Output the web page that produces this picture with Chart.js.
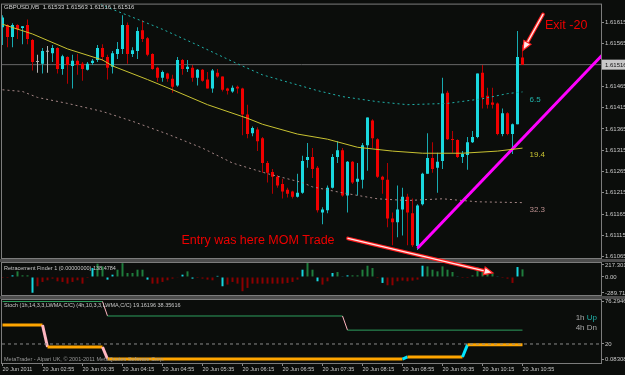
<!DOCTYPE html>
<html>
<head>
<meta charset="utf-8">
<script src="https://cdn.jsdelivr.net/npm/chart.js@4.4.1/dist/chart.umd.min.js"></script>
<style>
html,body{margin:0;padding:0;background:#0b0d0b;overflow:hidden}
#wrap{position:relative;width:625px;height:375px}
canvas{position:absolute;left:0;top:0}
</style>
</head>
<body>
<div id="wrap">
<canvas id="stoch" width="625" height="375"></canvas>
<canvas id="hist" width="625" height="375"></canvas>
<canvas id="main" width="625" height="375"></canvas>
</div>
<script>
// GBPUSD M5 candles, one per bar (bar 0 = 02:15)
const opens = [1.61604,1.61609,1.61581,1.61609,1.61602,1.61609,1.61574,1.61522,1.61518,1.61546,
1.61543,1.61555,1.61506,1.61534,1.61513,1.61525,1.61518,1.61504,1.61520,1.61527,
1.61555,1.61534,1.61511,1.61541,1.61553,1.61609,1.61541,1.61548,1.61597,1.61578,
1.61541,1.61509,1.61485,1.61495,1.61483,1.61467,1.61527,1.61506,1.61509,1.61485,
1.61504,1.61481,1.61460,1.61497,1.61488,1.61460,1.61453,1.61464,1.61460,1.61399,
1.61355,1.61364,1.61343,1.61285,1.61264,1.61253,1.61236,1.61222,1.61218,1.61206,
1.61215,1.61292,1.61299,1.61274,1.61169,1.61174,1.61227,1.61299,1.61315,1.61209,
1.61288,1.61241,1.61246,1.61327,1.61385,1.61341,1.61253,1.61246,1.61155,1.61146,
1.61176,1.61206,1.61167,1.61090,1.61188,1.61260,1.61297,1.61274,1.61290,1.61450,
1.61341,1.61339,1.61299,1.61304,1.61334,1.61346,1.61497,1.61443,1.61427,1.61425,
1.61353,1.61402,1.61353,1.61376,1.61533]
const highs = [1.61632,1.61611,1.61613,1.61611,1.61606,1.61622,1.61576,1.61539,1.61555,1.61560,
1.61562,1.61557,1.61539,1.61536,1.61539,1.61541,1.61522,1.61522,1.61529,1.61562,
1.61564,1.61539,1.61548,1.61569,1.61632,1.61615,1.61557,1.61604,1.61620,1.61581,
1.61543,1.61511,1.61502,1.61497,1.61492,1.61534,1.61529,1.61527,1.61515,1.61506,
1.61506,1.61499,1.61506,1.61506,1.61488,1.61462,1.61467,1.61467,1.61462,1.61422,
1.61371,1.61369,1.61346,1.61290,1.61271,1.61257,1.61248,1.61227,1.61220,1.61260,
1.61302,1.61332,1.61320,1.61278,1.61181,1.61232,1.61306,1.61336,1.61320,1.61290,
1.61290,1.61285,1.61332,1.61392,1.61388,1.61343,1.61255,1.61285,1.61169,1.61232,
1.61227,1.61213,1.61202,1.61188,1.61262,1.61355,1.61334,1.61309,1.61485,1.61455,
1.61360,1.61341,1.61313,1.61346,1.61360,1.61495,1.61515,1.61462,1.61462,1.61427,
1.61413,1.61404,1.61378,1.61595,1.61563]
const lows = [1.61562,1.61557,1.61557,1.61576,1.61564,1.61564,1.61502,1.61497,1.61495,1.61497,
1.61522,1.61495,1.61492,1.61471,1.61460,1.61492,1.61478,1.61502,1.61515,1.61522,
1.61525,1.61481,1.61495,1.61529,1.61541,1.61518,1.61534,1.61529,1.61569,1.61536,
1.61504,1.61476,1.61476,1.61476,1.61450,1.61464,1.61492,1.61499,1.61476,1.61467,
1.61476,1.61460,1.61450,1.61485,1.61453,1.61446,1.61450,1.61448,1.61350,1.61343,
1.61348,1.61313,1.61262,1.61239,1.61213,1.61227,1.61202,1.61204,1.61202,1.61204,
1.61213,1.61274,1.61250,1.61169,1.61141,1.61167,1.61225,1.61285,1.61206,1.61169,
1.61236,1.61209,1.61225,1.61267,1.61320,1.61250,1.61213,1.61134,1.61092,1.61111,
1.61115,1.61092,1.61088,1.61081,1.61185,1.61260,1.61262,1.61215,1.61271,1.61339,
1.61309,1.61297,1.61285,1.61269,1.61332,1.61343,1.61413,1.61413,1.61413,1.61350,
1.61348,1.61350,1.61306,1.61376,1.61516]
const closes = [1.61627,1.61581,1.61609,1.61599,1.61606,1.61576,1.61522,1.61522,1.61548,1.61546,
1.61555,1.61506,1.61536,1.61515,1.61525,1.61515,1.61506,1.61518,1.61525,1.61555,
1.61534,1.61509,1.61543,1.61553,1.61609,1.61541,1.61550,1.61595,1.61576,1.61539,
1.61506,1.61485,1.61499,1.61483,1.61464,1.61527,1.61506,1.61511,1.61485,1.61504,
1.61478,1.61460,1.61502,1.61488,1.61457,1.61455,1.61462,1.61460,1.61399,1.61353,
1.61367,1.61336,1.61285,1.61262,1.61253,1.61232,1.61218,1.61213,1.61206,1.61215,
1.61290,1.61299,1.61271,1.61174,1.61176,1.61227,1.61299,1.61315,1.61209,1.61288,
1.61239,1.61248,1.61327,1.61392,1.61343,1.61253,1.61246,1.61155,1.61146,1.61176,
1.61206,1.61169,1.61092,1.61185,1.61260,1.61297,1.61271,1.61288,1.61448,1.61341,
1.61339,1.61299,1.61306,1.61334,1.61346,1.61495,1.61439,1.61422,1.61422,1.61353,
1.61402,1.61353,1.61376,1.61534,1.61516]
const lastPrice = 1.61516

// moving averages, read at a few bars
const maMidBars = [0,6,13,20,22,29,34,41,49,52,59,65,71,78,84,92,99,104]
const maMidVals = [1.61611,1.61588,1.61553,1.61527,1.61513,1.61481,1.61457,1.61422,1.61390,1.61376,1.61353,1.61341,1.61322,1.61313,1.61308,1.61308,1.61313,1.61320]
const maUpBars = [19,20,25,32,39,47,52,63,68,75,81,89,96,101,104]
const maUpVals = [1.61667,1.61655,1.61632,1.61599,1.61562,1.61518,1.61492,1.61455,1.61441,1.61429,1.61422,1.61425,1.61436,1.61448,1.61452]
const maLowBars = [0,4,7,13,20,26,33,40,46,53,60,62,68,75,81,88,95,104]
const maLowVals = [1.61457,1.61453,1.61439,1.61425,1.61406,1.61383,1.61353,1.61320,1.61285,1.61260,1.61239,1.61229,1.61215,1.61201,1.61197,1.61201,1.61194,1.61192]
const trendBars = [83, 120]
const trendVals = [1.61085, 1.61539]

// Retracement Finder histogram (g = up, c = signal, r = down)
const histVals = [-18,-18,30,102,30,30,-285,-168,-90,-60,
-30,-78,-90,-120,-90,-60,-120,-18,162,240,
192,-48,42,132,250,72,72,132,132,-48,
-120,-120,-90,-60,-30,-6,42,102,-30,-18,
-30,-48,-60,20,-168,-138,-90,-120,-258,-198,
-120,-120,-120,-120,-120,-120,-120,-108,-90,-48,
132,252,132,-78,-138,-78,72,90,12,30,
30,30,132,204,162,-20,-108,-150,-150,-78,
-66,-78,-66,-48,204,192,132,102,192,132,
90,12,-18,-18,30,174,132,102,60,12,
-18,-30,-108,180,138.4784]
const histBuffer = ('rrcgggcrrr'+'rrrrrrrrcg'+'gccggggggc'+'rrrrrrcgcr'+'rrrccrrrrr'+'rrrrrrrrrr'+'cggcrrcgcc'+'gggggrcrrr'+'rrrrcggggg'+'gcrrgggggc'+'rrrcg').split('')

// multi-timeframe stochastic (step lines)
const stoch1hBars = [0,8,9,20,21,80,81,92,93,104]
const stoch1hVals = [45.2,45.2,16.0,16.0,0.08308,0.08308,2.8,2.8,19.16196,19.16196]
const stoch4hBars = [0,20,21,68,69,104]
const stoch4hVals = [76.29464,76.29464,57.1,57.1,38.35616,38.35616]
const stochLevel = 20

// axis ticks
const priceTicks = [1.61065,1.61115,1.61165,1.61215,1.61265,1.61315,1.61365,1.61415,1.61465,1.61565,1.61615]
const histTicks = [217.3016, 0, -289.712]
const histTickLabels = ['217.3016','0.00','-289.712']
const stochTicks = [76.29464, 20, 0.08308]
const stochTickLabels = ['76.29464','20','0.08308']
const timeTickBars = [0,8,16,24,32,40,48,56,64,72,80,88,96,104]
const timeLabels = ['20 Jun 2011','20 Jun 02:55','20 Jun 03:35','20 Jun 04:15','20 Jun 04:55','20 Jun 05:35','20 Jun 06:15','20 Jun 06:55','20 Jun 07:35','20 Jun 08:15','20 Jun 08:55','20 Jun 09:35','20 Jun 10:15','20 Jun 10:55']

Chart.defaults.font.family = '"Liberation Sans", Arial, sans-serif'
Chart.defaults.color = '#c8c8c8'
Chart.defaults.animation = false

const FONT = '"Liberation Sans", Arial, sans-serif'
const xMin = -0.1, xMax = 119.7
const bull = '#1ad8df', bear = '#f00000', doji = '#b4b4b4'
const bullWick = '#17aab0', bearWick = '#b40000'

const pts = (bars, vals) => bars.map((b, i) => ({x: b, y: vals[i]}))
const idx = opens.map((_, i) => i)
const dir = i => closes[i] > opens[i] ? 1 : closes[i] < opens[i] ? -1 : 0

function rightAxis(min, max, ticks, labels) {
  return {
    position: 'right', min: min, max: max,
    afterFit(s) { s.width = 24 },
    afterBuildTicks(s) { s.ticks = ticks.map(v => ({value: v})) },
    border: {display: false},
    grid: {drawOnChartArea: false, drawTicks: true, tickLength: 3, color: '#8c8c8c'},
    ticks: {padding: 1, autoSkip: false, font: {size: 6}, color: '#c8c8c8', callback: (v, i) => labels[i]}
  }
}
function hiddenX() {
  return {type: 'linear', min: xMin, max: xMax, offset: false, display: false}
}
function frame(chart) {
  const {ctx, chartArea: a} = chart
  ctx.save()
  ctx.strokeStyle = '#7c7c7c'
  ctx.lineWidth = 1
  ctx.strokeRect(a.left - 0.5, a.top - 0.5, a.right - a.left + 1, a.bottom - a.top + 1)
  ctx.restore()
}
function arrow(ctx, x0, y0, x1, y1) {
  const ang = Math.atan2(y1 - y0, x1 - x0), c = Math.cos(ang), s = Math.sin(ang)
  const bx = x1 - 9 * c, by = y1 - 9 * s
  ctx.lineCap = 'round'
  ctx.strokeStyle = '#ff2020'; ctx.lineWidth = 3.6
  ctx.beginPath(); ctx.moveTo(x0, y0); ctx.lineTo(bx, by); ctx.stroke()
  ctx.strokeStyle = '#ffe8e8'; ctx.lineWidth = 1.3
  ctx.beginPath(); ctx.moveTo(x0, y0); ctx.lineTo(bx, by); ctx.stroke()
  ctx.beginPath()
  ctx.moveTo(x1, y1)
  ctx.lineTo(bx + 4 * s, by - 4 * c)
  ctx.lineTo(bx - 4 * s, by + 4 * c)
  ctx.closePath()
  ctx.fillStyle = '#ffe8e8'; ctx.fill()
  ctx.strokeStyle = '#ff2020'; ctx.lineWidth = 1.2; ctx.stroke()
}

// ---- main price panel (top canvas, also carries the annotations)
const maLabels = [
  {text: '6.5', price: 1.61429, color: '#20b2aa'},
  {text: '19.4', price: 1.61299, color: '#c9c332'},
  {text: '32.3', price: 1.61171, color: '#bc8f8f'}
]
const mainDecor = {
  id: 'mainDecor',
  beforeDatasetsDraw(chart) { frame(chart) },
  afterDraw(chart) {
    const {ctx, chartArea: a, scales: {x, y}} = chart
    const n = closes.length - 1
    ctx.save()
    ctx.textBaseline = 'alphabetic'
    ctx.font = '6px ' + FONT
    ctx.fillStyle = '#d4d4d4'
    ctx.fillText('GBPUSD,M5  ' + [opens[n], highs[n], lows[n], closes[n]].map(v => v.toFixed(5)).join(' '), 4, 9)

    // bid price box on the axis
    const py = y.getPixelForValue(lastPrice)
    ctx.fillStyle = '#c8c8c8'
    ctx.fillRect(a.right + 1, py - 5, 23, 10)
    ctx.fillStyle = '#101010'
    ctx.textBaseline = 'middle'
    ctx.fillText(lastPrice.toFixed(5), a.right + 4, py + 0.5)

    ctx.textBaseline = 'alphabetic'
    ctx.font = '8px ' + FONT
    maLabels.forEach(l => {
      ctx.fillStyle = l.color
      ctx.fillText(l.text, x.getPixelForValue(105.4), y.getPixelForValue(l.price))
    })

    ctx.font = '12.5px ' + FONT
    ctx.fillStyle = '#ee0000'
    ctx.fillText('Exit -20', x.getPixelForValue(108.5), y.getPixelForValue(1.61599))
    ctx.fillText('Entry was here MOM Trade', x.getPixelForValue(35.8), y.getPixelForValue(1.61095))

    arrow(ctx, x.getPixelForValue(108.1), y.getPixelForValue(1.61634), x.getPixelForValue(104.1), y.getPixelForValue(1.61550))
    arrow(ctx, x.getPixelForValue(69.1), y.getPixelForValue(1.61108), x.getPixelForValue(98.1), y.getPixelForValue(1.61027))
    ctx.restore()
  }
}

new Chart(document.getElementById('main'), {
  type: 'bar',
  data: {
    datasets: [
      {
        label: 'wicks', order: 2, grouped: false, barThickness: 1, inflateAmount: 0, borderWidth: 0,
        data: idx.map(i => ({x: i, y: [lows[i], highs[i]]})),
        backgroundColor: idx.map(i => dir(i) > 0 ? bullWick : dir(i) < 0 ? bearWick : doji)
      },
      {
        label: 'bodies', order: 1, grouped: false, barThickness: 3, inflateAmount: 0, borderWidth: 0, minBarLength: 1,
        data: idx.map(i => ({x: i, y: [Math.min(opens[i], closes[i]), Math.max(opens[i], closes[i])]})),
        backgroundColor: idx.map(i => dir(i) > 0 ? bull : dir(i) < 0 ? bear : doji)
      },
      {type: 'line', label: 'bid', order: 3, data: [{x: xMin, y: lastPrice}, {x: xMax, y: lastPrice}], borderColor: '#686868', borderWidth: 1, pointRadius: 0},
      {type: 'line', label: 'ma mid', order: 0, data: pts(maMidBars, maMidVals), borderColor: '#c9c332', borderWidth: 1, pointRadius: 0},
      {type: 'line', label: 'ma up', order: 0, data: pts(maUpBars, maUpVals), borderColor: '#20b2aa', borderWidth: 1, borderDash: [2, 3], pointRadius: 0},
      {type: 'line', label: 'ma low', order: 0, data: pts(maLowBars, maLowVals), borderColor: '#a58686', borderWidth: 1, borderDash: [2, 3], pointRadius: 0},
      {type: 'line', label: 'trend', order: 0, data: pts(trendBars, trendVals), borderColor: '#ff00ff', borderWidth: 3, pointRadius: 0}
    ]
  },
  options: {
    responsive: false, devicePixelRatio: 1, events: [],
    layout: {padding: {left: 2, top: 2, right: 0, bottom: 117}},
    plugins: {legend: {display: false}, tooltip: {enabled: false}},
    scales: {
      x: hiddenX(),
      y: rightAxis(1.61062, 1.61657, priceTicks, priceTicks.map(v => v.toFixed(5)))
    }
  },
  plugins: [mainDecor]
})

// ---- histogram panel
const histColor = {g: '#1f7d3c', c: '#16d6de', r: '#8b0000'}
const histDecor = {
  id: 'histDecor',
  beforeDraw(chart) {
    const ctx = chart.ctx
    ctx.save()
    ctx.fillStyle = '#4c4c4c'
    ctx.fillRect(0, 259, 625, 3)
    ctx.fillRect(0, 296, 625, 3)
    ctx.restore()
  },
  beforeDatasetsDraw(chart) { frame(chart) },
  afterDraw(chart) {
    const ctx = chart.ctx
    ctx.save()
    ctx.font = '5.5px ' + FONT
    ctx.fillStyle = '#c8c8c8'
    ctx.fillText('Retracement Finder 1 (0.00000000) ' + histVals[histVals.length - 1].toFixed(4), 4, 270)
    ctx.restore()
  }
}
new Chart(document.getElementById('hist'), {
  type: 'bar',
  data: {
    datasets: [{
      label: 'retracement', barThickness: 2, inflateAmount: 0, borderWidth: 0,
      data: histVals.map((v, i) => ({x: i, y: v})),
      backgroundColor: histBuffer.map(b => histColor[b])
    }]
  },
  options: {
    responsive: false, devicePixelRatio: 1, events: [],
    layout: {padding: {left: 2, top: 263, right: 0, bottom: 80}},
    plugins: {legend: {display: false}, tooltip: {enabled: false}},
    scales: {
      x: hiddenX(),
      y: rightAxis(-326, 253, histTicks, histTickLabels)
    }
  },
  plugins: [histDecor]
})

// ---- stochastic panel with time axis
const stepColor = up => c => c.p1.parsed.y < c.p0.parsed.y ? '#ffb6c1' : c.p1.parsed.y > c.p0.parsed.y ? up : undefined
const stochDecor = {
  id: 'stochDecor',
  beforeDatasetsDraw(chart) { frame(chart) },
  afterDraw(chart) {
    const ctx = chart.ctx
    ctx.save()
    ctx.font = '5.5px ' + FONT
    ctx.fillStyle = '#c8c8c8'
    ctx.fillText('Stoch (1h,14,3,3,LWMA,C/C) (4h,10,3,3,LWMA,C/C) ' + stoch1hVals[stoch1hVals.length - 1].toFixed(5) + ' ' + stoch4hVals[stoch4hVals.length - 1].toFixed(5), 4, 307)
    ctx.fillStyle = '#9a9a9a'
    ctx.fillText('MetaTrader - Alpari UK, \u00a9 2001-2011 MetaQuotes Software Corp.', 4, 361)

    ctx.font = '8px ' + FONT
    ctx.textAlign = 'right'
    const xr = 597
    ctx.fillStyle = '#20b2aa'
    ctx.fillText('Up', xr, 320)
    ctx.fillStyle = '#a8a8a8'
    ctx.fillText('1h ', xr - ctx.measureText('Up').width, 320)
    ctx.fillText('4h Dn', xr, 330)
    ctx.restore()
  }
}
new Chart(document.getElementById('stoch'), {
  type: 'line',
  data: {
    datasets: [
      {label: 'level', data: [{x: xMin, y: stochLevel}, {x: xMax, y: stochLevel}], borderColor: '#8a8a8a', borderWidth: 1, borderDash: [3, 3], pointRadius: 0},
      {label: '4h', data: pts(stoch4hBars, stoch4hVals), borderColor: '#2e9e5e', borderWidth: 1, pointRadius: 0, segment: {borderColor: stepColor('#00e5ff')}},
      {label: '1h', data: pts(stoch1hBars, stoch1hVals), borderColor: '#ffa500', borderWidth: 3, pointRadius: 0, segment: {borderColor: stepColor('#00e5ff')}}
    ]
  },
  options: {
    responsive: false, devicePixelRatio: 1, events: [],
    layout: {padding: {left: 2, top: 300, right: 0, bottom: 0}},
    plugins: {legend: {display: false}, tooltip: {enabled: false}},
    scales: {
      x: {
        type: 'linear', min: xMin, max: xMax, offset: false,
        afterFit(s) { s.height = 12 },
        afterBuildTicks(s) { s.ticks = timeTickBars.map(v => ({value: v})) },
        border: {display: false},
        grid: {drawOnChartArea: false, drawTicks: true, tickLength: 3, color: '#8c8c8c'},
        ticks: {align: 'start', autoSkip: false, maxRotation: 0, padding: 0, font: {size: 5.5}, color: '#c8c8c8', callback: (v, i) => timeLabels[i]}
      },
      y: rightAxis(-5.17, 78.28, stochTicks, stochTickLabels)
    }
  },
  plugins: [stochDecor]
})
</script>
</body>
</html>
